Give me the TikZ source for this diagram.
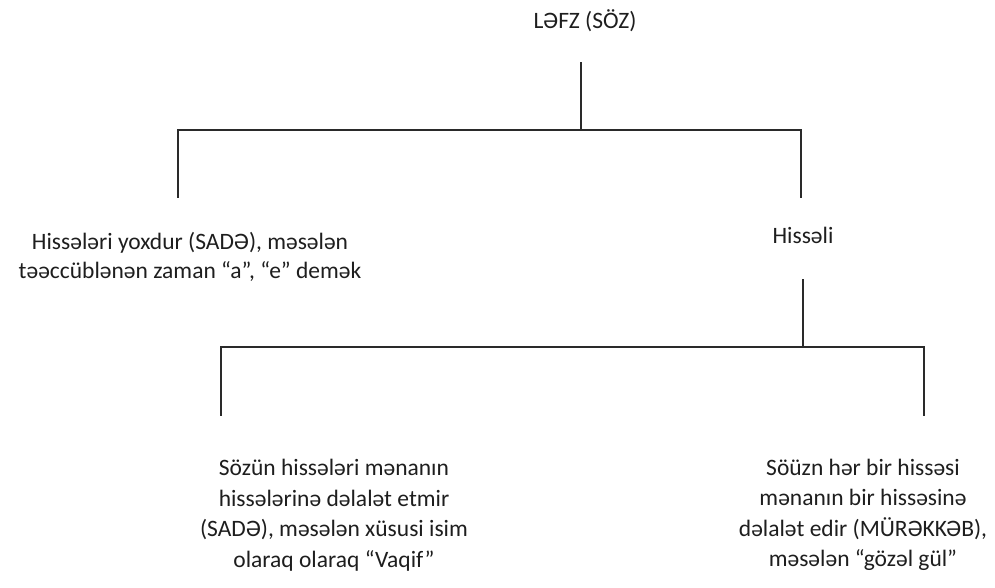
\documentclass[tikz,border=0pt]{standalone}
\usepackage{fontspec}
\setmainfont{Carlito}
\definecolor{ink}{HTML}{1E1E1E}
\definecolor{wire}{HTML}{2A2A2A}
\begin{document}
\begin{tikzpicture}[x=1pt,y=-1pt,
  label text/.style={inner sep=0pt, text=ink, font=\fontsize{23.5}{30.5}\selectfont},
  block text/.style={label text, align=center},
  wire line/.style={draw=wire, line width=1.3pt, line cap=rect}]
\useasboundingbox[fill=white] (0,0) rectangle (995,587);
% texts
\node[label text, anchor=base] (root) at (585,28) {LƏFZ (SÖZ)};
\node[label text, anchor=base] (hissali) at (803,243) {Hissəli};
\node[block text, font=\fontsize{23.5}{29}\selectfont, anchor=center] (sade) at (190,257)
  {Hissələri yoxdur (SADƏ), məsələn\\təəccüblənən zaman “a”, “e” demək};
\node[block text, anchor=center] (sade2) at (334,515)
  {Sözün hissələri mənanın\\hissələrinə dəlalət etmir\\(SADƏ), məsələn xüsusi isim\\olaraq olaraq “Vaqif”};
\node[block text, anchor=center] (murekkeb) at (863,515)
  {Söüzn hər bir hissəsi\\mənanın bir hissəsinə\\dəlalət edir (MÜRƏKKƏB),\\məsələn “gözəl gül”};
% joints
\coordinate (r0) at (581,63);
\coordinate (r1) at (581,130);
\coordinate (a0) at (178,130);
\coordinate (a1) at (178,197);
\coordinate (b0) at (801,130);
\coordinate (b1) at (801,197);
\coordinate (h0) at (803,280);
\coordinate (h1) at (803,347);
\coordinate (c0) at (221,347);
\coordinate (c1) at (221,415);
\coordinate (d0) at (924,347);
\coordinate (d1) at (924,415);
% connectors
\draw[wire line] (r0) -- (r1);
\draw[wire line] (a1) -- (a0) -- (b0) -- (b1);
\draw[wire line] (h0) -- (h1);
\draw[wire line] (c1) -- (c0) -- (d0) -- (d1);
\end{tikzpicture}
\end{document}
